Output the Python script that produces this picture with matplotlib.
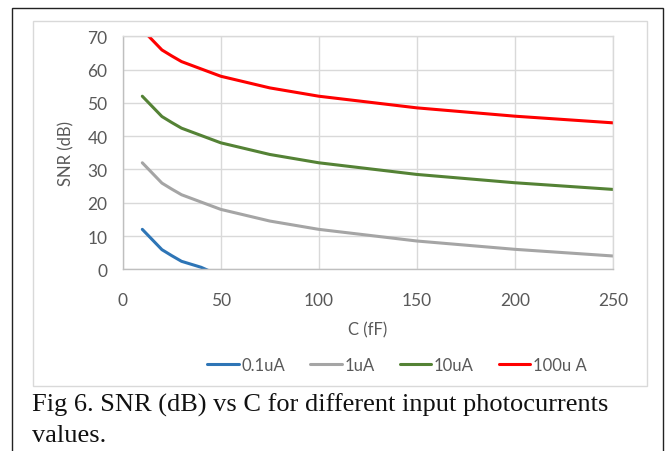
import numpy as np
import matplotlib.pyplot as plt
from matplotlib.patches import Rectangle

# capacitance (fF) and SNR (dB)
C = [10, 20, 25, 30, 40, 50, 75, 100, 150, 200, 250]
snr_01uA = [12.0, 5.9, 4.1, 2.4, 0.6, -2.0, -5.5, -8.0, -11.5, -14.0, -16.0]
snr_1uA = [32.0, 25.9, 24.1, 22.4, 20.2, 18.0, 14.5, 12.0, 8.5, 6.0, 4.0]
snr_10uA = [52.0, 45.9, 44.1, 42.4, 40.2, 38.0, 34.5, 32.0, 28.5, 26.0, 24.0]
snr_100uA = [72.0, 65.9, 64.1, 62.4, 60.2, 58.0, 54.5, 52.0, 48.5, 46.0, 44.0]

labels = ['0.1uA', '1uA', '10uA', '100u A']
colors = ['#2E75B6', '#A5A5A5', '#548235', '#FF0000']
series = [snr_01uA, snr_1uA, snr_10uA, snr_100uA]

xticks = [0, 50, 100, 150, 200, 250]
yticks = [0, 10, 20, 30, 40, 50, 60, 70]

txt = '#595959'
grid = '#D9D9D9'
plt.rcParams['font.family'] = ['Lato', 'DejaVu Sans']

W, H = 670, 452
fig = plt.figure(figsize=(W / 100, H / 100), dpi=100)

# outer black frame and light chart-area frame
fig.patches.append(Rectangle((11.5 / W, -0.05), (662.5 - 11.5) / W, (H - 8.5) / H + 0.05,
                             transform=fig.transFigure, fill=False, ec='#222222', lw=1.0))
fig.patches.append(Rectangle((33 / W, (H - 387) / H), (647 - 33) / W, (387 - 22) / H,
                             transform=fig.transFigure, fill=False, ec=grid, lw=1.0))

ax = fig.add_axes([122.7 / W, (H - 270.3) / H, (613 - 122.7) / W, (270.3 - 37.3) / H])
for s, c, lab in zip(series, colors, labels):
    ax.plot(C, s, color=c, lw=2.2, label=lab, solid_capstyle='round')

ax.set_xlim(0, 250)
ax.set_ylim(0, 70)
ax.set_xticks(xticks)
ax.set_yticks(yticks)
ax.grid(True, color=grid, lw=1.0)
ax.set_axisbelow(True)
for sp in ax.spines.values():
    sp.set_color(grid)
    sp.set_linewidth(1.0)
ax.spines['bottom'].set_color('#BFBFBF')
ax.spines['left'].set_color('#BFBFBF')
ax.tick_params(length=0, labelsize=12.5, colors=txt)
ax.tick_params(axis='y', pad=11)
ax.tick_params(axis='x', pad=16)

ax.set_xlabel('C (fF)', fontsize=12, color=txt, labelpad=10)
ax.set_ylabel('SNR (dB)', fontsize=12, color=txt, labelpad=9)

ax.legend(loc='center', bbox_to_anchor=(397 / W, (H - 366) / H), bbox_transform=fig.transFigure,
          ncol=4, frameon=False, fontsize=12, labelcolor=txt, handlelength=1.9,
          handletextpad=0.15, columnspacing=1.5)

fig.text(32 / W, (H - 411.5) / H, 'Fig 6. SNR (dB) vs C for different input photocurrents',
         family='Liberation Serif', fontsize=19, color='#111111', ha='left', va='baseline')
fig.text(32 / W, (H - 442.5) / H, 'values.',
         family='Liberation Serif', fontsize=19, color='#111111', ha='left', va='baseline')

fig.savefig('out.png', dpi=100)
